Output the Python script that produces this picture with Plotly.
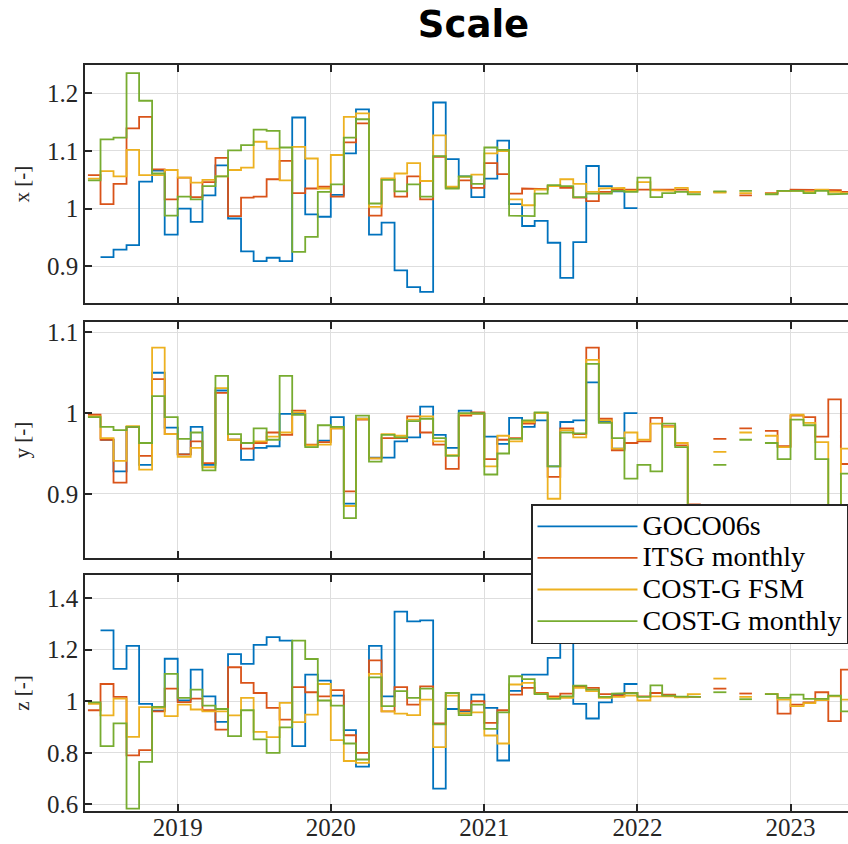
import plotly.graph_objects as go

# ---------------- data (monthly values, first month = June 2018) ----------------
N = None
series_names = ["GOCO06s", "ITSG monthly", "COST-G FSM", "COST-G monthly"]
colors = ["#0072BD", "#D95319", "#EDB120", "#77AC30"]

goco_x = [N, 0.916, 0.929, 0.937, 1.047, 1.066, 0.955, 1.000, 0.977, 1.023, 1.075, 0.983, 0.926, 0.909, 0.915,
          0.909, 1.158, 0.990, 0.986, 1.024, 1.096, 1.172, 0.955, 0.976, 0.893, 0.864, 0.856, 1.184, 1.086, 1.056,
          1.020, 1.052, 1.118, 1.008, 0.970, 0.979, 0.941, 0.880, 0.942, 1.074, 1.039, 1.030, 1.001, N, N,
          N, N, N, N, N, N, N, N, N, N, N, N, N, N, N]
itsg_x = [1.058, 1.008, 1.043, 1.139, 1.159, 1.068, 1.016, 1.054, 1.020, 1.046, 1.088, 0.987, 1.019, 1.021, 1.051,
          1.083, 1.027, 1.035, 1.038, 1.021, 1.115, 1.148, 0.988, 1.052, 1.021, 1.056, 1.016, 1.090, 1.036, 1.049,
          1.036, 1.079, 1.060, 1.026, 1.035, 1.034, 1.039, 1.036, 1.019, 1.013, 1.029, 1.033, 1.032, 1.032, 1.032,
          1.032, 1.033, 1.029, N, 1.029, N, 1.023, N, 1.027, 1.031, 1.033, 1.033, 1.032, 1.032, 1.029]
fsm_x = [1.052, 1.065, 1.056, 1.102, 1.058, 1.058, 1.067, 1.054, 1.045, 1.050, 1.056, 1.067, 1.071, 1.116, 1.104,
         1.049, 1.107, 1.087, 1.035, 1.093, 1.159, 1.165, 1.003, 1.052, 1.061, 1.079, 1.048, 1.127, 1.038, 1.055,
         1.059, 1.096, 1.100, 1.016, 1.006, 1.033, 1.039, 1.051, 1.043, 1.029, 1.035, 1.036, 1.031, 1.046, 1.032,
         1.031, 1.036, 1.029, N, 1.028, N, 1.027, N, 1.026, 1.031, 1.031, 1.029, 1.033, 1.029, 1.027]
costg_x = [1.049, 1.120, 1.123, 1.235, 1.187, 1.061, 0.988, 1.021, 1.016, 1.039, 1.056, 1.101, 1.110, 1.137, 1.135,
           1.106, 0.925, 0.951, 1.029, 1.042, 1.123, 1.155, 1.009, 1.050, 1.030, 1.042, 1.021, 1.091, 1.035, 1.056,
           1.043, 1.106, 1.102, 0.988, 0.987, 1.026, 1.041, 1.039, 1.020, 1.026, 1.026, 1.031, 1.029, 1.054, 1.020,
           1.027, 1.029, 1.025, N, 1.030, N, 1.031, N, 1.025, 1.031, 1.031, 1.027, 1.031, 1.025, 1.026]

goco_y = [N, 0.967, 0.928, 0.983, 0.936, 1.050, 0.982, 0.949, 0.983, 0.936, 1.028, 0.967, 0.942, 0.957, 0.959,
          0.999, 0.999, 0.960, 0.966, 0.995, 0.888, 0.993, 0.945, 0.945, 0.965, 0.970, 1.008, 0.973, 0.957, 1.003,
          0.999, 0.971, 0.962, 0.994, 0.983, 0.991, 0.934, 0.989, 0.991, 1.038, 0.989, 0.956, 1.000, N, N,
          N, N, N, N, N, N, N, N, N, N, N, N, N, N, N]
itsg_y = [0.998, 0.967, 0.914, 0.983, 0.947, 1.042, 0.974, 0.949, 0.965, 0.938, 1.025, 0.967, 0.956, 0.963, 0.976,
          0.973, 1.003, 0.961, 0.964, 0.981, 0.903, 0.992, 0.944, 0.969, 0.969, 0.996, 0.976, 0.961, 0.931, 0.997,
          1.001, 0.943, 0.967, 0.969, 0.987, 1.000, 0.921, 0.981, 0.974, 1.081, 0.993, 0.954, 0.963, 0.965, 0.994,
          0.984, 0.960, 0.887, N, 0.968, N, 0.981, N, 0.978, 0.959, 0.997, 0.995, 0.971, 1.017, 0.937]
fsm_y = [0.996, 0.969, 0.941, 0.984, 0.930, 1.081, 0.974, 0.946, 0.957, 0.933, 1.031, 0.967, 0.963, 0.965, 0.971,
         0.976, 1.001, 0.960, 0.961, 0.981, 0.885, 0.993, 0.944, 0.974, 0.972, 0.992, 0.996, 0.965, 0.948, 0.999,
         0.999, 0.934, 0.972, 0.965, 0.989, 1.000, 0.894, 0.979, 0.970, 1.066, 0.991, 0.956, 0.976, 0.967, 0.987,
         0.983, 0.963, 0.870, N, 0.952, N, 0.976, N, 0.972, 0.958, 0.998, 0.988, 0.964, 0.875, 0.956]
costg_y = [0.995, 0.983, 0.979, 0.983, 0.963, 1.021, 0.995, 0.968, 0.976, 0.929, 1.046, 0.974, 0.963, 0.981, 0.967,
           1.046, 0.998, 0.958, 0.985, 0.983, 0.870, 0.997, 0.940, 0.973, 0.970, 0.990, 0.993, 0.969, 0.947, 1.000,
           1.000, 0.924, 0.950, 0.968, 0.991, 1.001, 0.934, 0.976, 0.975, 1.061, 0.988, 0.969, 0.919, 0.936, 0.928,
           0.987, 0.958, 0.850, N, 0.936, N, 0.967, N, 0.963, 0.943, 0.992, 0.985, 0.943, 0.860, 0.925]

goco_z = [N, 1.275, 1.126, 1.215, 0.990, 0.964, 1.165, 1.003, 1.123, 1.019, 0.920, 1.183, 1.145, 1.219, 1.249,
          1.235, 0.826, 1.103, 1.080, 1.022, 0.888, 0.746, 1.215, 1.019, 1.348, 1.310, 1.314, 0.661, 0.970, 0.961,
          1.026, 0.974, 0.770, 1.040, 1.103, 1.103, 1.168, 1.280, 0.990, 0.933, 0.996, 1.026, 1.067, N, N,
          N, N, N, N, N, N, N, N, N, N, N, N, N, N, N]
itsg_z = [0.965, 1.067, 1.017, 0.790, 0.810, 0.961, 1.049, 0.997, 1.010, 0.965, 0.890, 1.132, 1.071, 1.032, 0.974,
          0.929, 1.055, 1.035, 1.019, 1.043, 0.868, 0.800, 1.159, 0.961, 1.055, 0.987, 1.058, 0.914, 1.032, 0.965,
          1.000, 0.916, 0.965, 1.026, 1.052, 1.032, 1.019, 1.030, 1.058, 1.052, 1.028, 1.023, 1.032, 1.019, 1.032,
          1.026, 1.017, 1.017, N, 1.049, N, 1.030, N, 1.028, 0.952, 0.987, 0.996, 1.035, 0.923, 1.123]
fsm_z = [0.990, 0.945, 1.010, 0.862, 0.977, 0.974, 0.942, 0.987, 0.968, 0.961, 0.961, 0.945, 1.013, 0.881, 0.861,
         0.994, 0.919, 0.948, 1.067, 0.849, 0.768, 0.761, 1.106, 0.961, 0.952, 0.946, 1.006, 0.822, 1.022, 0.954,
         0.957, 0.867, 0.836, 1.065, 1.071, 1.030, 1.013, 1.013, 1.052, 1.039, 1.013, 1.017, 1.022, 1.003, 1.019,
         1.019, 1.015, 1.028, N, 1.088, N, 1.017, N, 1.028, 1.006, 0.981, 0.993, 1.004, 1.019, 1.006]
costg_z = [0.996, 0.826, 0.914, 0.583, 0.765, 0.978, 1.106, 1.013, 1.045, 0.983, 0.970, 0.865, 0.965, 0.852, 0.800,
           0.899, 1.235, 1.164, 1.003, 0.983, 0.836, 0.774, 1.093, 0.981, 1.039, 1.013, 1.049, 0.910, 1.032, 0.946,
           0.987, 0.893, 0.957, 1.097, 1.086, 1.028, 1.009, 1.019, 1.061, 1.045, 1.017, 1.030, 1.032, 1.017, 1.062,
           1.022, 1.019, 1.017, N, 1.035, N, 1.008, N, 1.028, 1.013, 1.026, 1.009, 1.009, 1.022, 0.961]

year_ticks = ["2019", "2020", "2021", "2022", "2023"]
panel_labels = ["x [-]", "y [-]", "z [-]"]
ytick_vals = [[0.9, 1.0, 1.1, 1.2], [0.9, 1.0, 1.1], [0.6, 0.8, 1.0, 1.2, 1.4]]
y_ranges = [[0.836, 1.249], [0.821, 1.1124], [0.574, 1.49]]

# month start dates: June 2018 onwards
months = ["%d-%02d-01" % (2018 + (5 + k) // 12, (5 + k) % 12 + 1) for k in range(61)]


def steps(vals):
    xs, ys = [], []
    for k, v in enumerate(vals):
        if v is None:
            if xs and xs[-1] is not None:
                xs.append(None)
                ys.append(None)
            continue
        xs += [months[k], months[k + 1]]
        ys += [v, v]
    return xs, ys


panels = [
    [goco_x, itsg_x, fsm_x, costg_x],
    [goco_y, itsg_y, fsm_y, costg_y],
    [goco_z, itsg_z, fsm_z, costg_z],
]

fig = go.Figure()
for p, group in enumerate(panels):
    for s, vals in enumerate(group):
        xs, ys = steps(vals)
        fig.add_trace(go.Scatter(
            x=xs, y=ys, mode="lines",
            name='<span style="font-size:28px">%s</span>' % series_names[s],
            line=dict(color=colors[s], width=1.8),
            legendgroup=series_names[s], showlegend=(p == 0),
            xaxis="x" if p == 0 else "x%d" % (p + 1),
            yaxis="y" if p == 0 else "y%d" % (p + 1),
            hoverinfo="skip",
        ))

AX = "#262626"
serif = "Liberation Serif, Times New Roman, serif"
domains = [[0.6406, 0.9230], [0.3392, 0.6181], [0.0391, 0.3187]]
layout = dict(
    width=848, height=844,
    margin=dict(l=0, r=0, t=0, b=0, autoexpand=False),
    paper_bgcolor="white", plot_bgcolor="white",
    showlegend=True,
    title=dict(text="<b>Scale</b>", x=0.5584, xanchor="center", y=0.972, yanchor="middle",
               yref="container", font=dict(family="DejaVu Sans", size=37, color="black")),
    legend=dict(x=531 / 848, y=1 - 504 / 844, xanchor="left", yanchor="top",
                bgcolor="white", bordercolor=AX, borderwidth=1.5,
                font=dict(family=serif, size=22, color="black"),
                itemwidth=100, tracegroupgap=0),
)
for p in range(3):
    xn = "xaxis" if p == 0 else "xaxis%d" % (p + 1)
    yn = "yaxis" if p == 0 else "yaxis%d" % (p + 1)
    layout[xn] = dict(
        type="date", range=["2018-05-25", "2023-05-18"], domain=[85 / 848, 1.0],
        anchor="y" if p == 0 else "y%d" % (p + 1),
        showline=True, linecolor=AX, linewidth=1.5, mirror="ticks",
        ticks="inside", ticklen=7, tickwidth=1.5, tickcolor=AX,
        showgrid=True, gridcolor="#dedede", gridwidth=1, zeroline=False,
        tickvals=[y + "-01-01" for y in year_ticks], ticktext=year_ticks,
        showticklabels=(p == 2), ticklabelstandoff=-7,
        tickfont=dict(family=serif, size=25, color=AX),
    )
    layout[yn] = dict(
        range=y_ranges[p], domain=domains[p],
        anchor="x" if p == 0 else "x%d" % (p + 1),
        showline=True, linecolor=AX, linewidth=1.5, mirror=False,
        ticks="inside", ticklen=7, tickwidth=1.5, tickcolor=AX,
        showgrid=True, gridcolor="#dedede", gridwidth=1, zeroline=False,
        tickvals=ytick_vals[p],
        tickfont=dict(family=serif, size=25, color=AX),
        title=dict(text=panel_labels[p], font=dict(family=serif, size=21, color=AX), standoff=12),
    )
fig.update_layout(**layout)
fig.write_html("out.html", config={"displayModeBar": False})
